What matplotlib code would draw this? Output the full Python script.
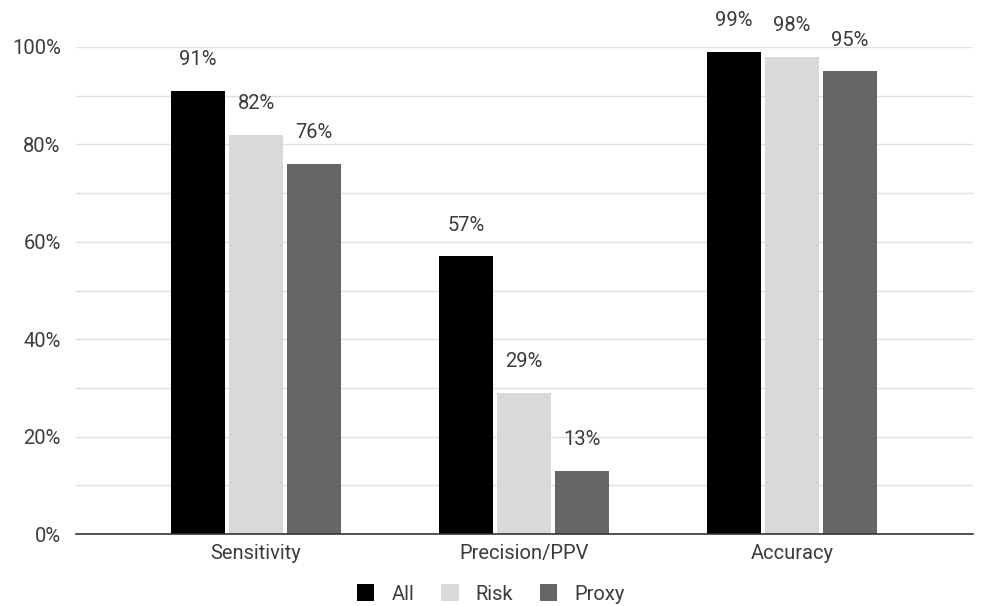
import matplotlib
matplotlib.use("Agg")
import matplotlib.pyplot as plt
import numpy as np
from matplotlib.ticker import FuncFormatter, MultipleLocator

plt.rcParams['font.family'] = ['Roboto', 'DejaVu Sans']

categories = ["Sensitivity", "Precision/PPV", "Accuracy"]
series_names = ["All", "Risk", "Proxy"]
all_vals = [91, 57, 99]
risk_vals = [82, 29, 98]
proxy_vals = [76, 13, 95]
colors = ["#000000", "#d9d9d9", "#666666"]
text_color = "#3c3c3c"
fs = 14.5

fig = plt.figure(figsize=(9.82, 6.06), dpi=100)
ax = fig.add_axes([76 / 982, 72 / 606, 897 / 982, 487 / 606])

x = np.arange(len(categories))
width = 0.2015
step = 0.2164
for i, (name, vals, col) in enumerate(zip(series_names, [all_vals, risk_vals, proxy_vals], colors)):
    pos = x + (i - 1) * step
    ax.bar(pos, vals, width=width, color=col, label=name, zorder=3)
    for xb, v in zip(pos, vals):
        ax.annotate(f"{v}%", (xb, v), xytext=(0, 31), textcoords="offset pixels",
                    ha="center", va="center", fontsize=fs, color=text_color)

ax.set_xlim(-0.672, 2.675)
ax.set_ylim(0, 100)
ax.yaxis.set_major_locator(MultipleLocator(20))
ax.yaxis.set_minor_locator(MultipleLocator(10))
ax.yaxis.set_major_formatter(FuncFormatter(lambda v, p: f"{int(v)}%"))
ax.grid(axis="y", which="both", color="#e0e0e0", linewidth=1, zorder=0)
ax.set_axisbelow(True)
for s in ["top", "right", "left"]:
    ax.spines[s].set_visible(False)
ax.spines["bottom"].set_color("#333333")
ax.spines["bottom"].set_linewidth(1.2)
ax.spines["bottom"].set_zorder(4)
ax.tick_params(axis="both", which="both", length=0, labelsize=fs, colors=text_color)
ax.tick_params(axis="y", pad=11)
ax.tick_params(axis="x", pad=7)
ax.set_xticks(x)
ax.set_xticklabels(categories)

leg = fig.legend(loc="center", bbox_to_anchor=(0.5, 1 - 594 / 606), ncol=3, frameon=False,
                 fontsize=fs, handlelength=0.85, handleheight=0.85, columnspacing=1.35,
                 handletextpad=0.85)
for t in leg.get_texts():
    t.set_color(text_color)

fig.savefig("out.png", dpi=100)
